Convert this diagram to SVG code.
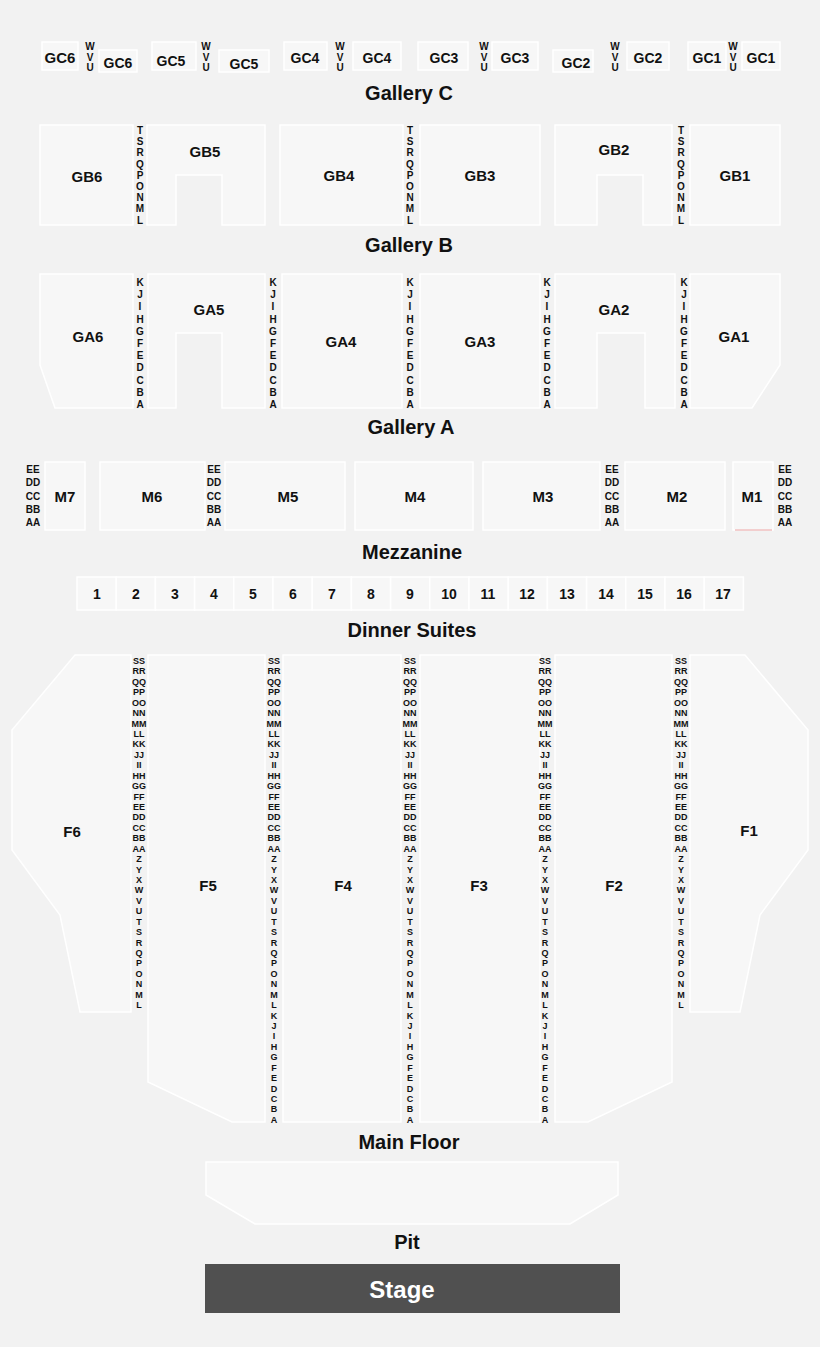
<svg xmlns="http://www.w3.org/2000/svg" width="820" height="1347" viewBox="0 0 820 1347">
<style>
text{font-family:"Liberation Sans",Arial,sans-serif;font-weight:bold;fill:#111;text-anchor:middle}
.s{fill:#f7f7f7;stroke:#fff;stroke-width:1.5}
.l{font-size:15px}
.t{font-size:20px}
.r{font-size:10px}
.rs{font-size:9px}
</style>
<rect width="820" height="1347" fill="#f2f2f2"/>
<g id="gallery-c">
<rect class="s" x="42" y="42" width="36" height="28"/><rect class="s" x="99" y="50" width="38" height="22"/>
<rect class="s" x="152" y="42" width="44" height="28"/><rect class="s" x="219" y="50" width="50" height="22"/>
<rect class="s" x="284" y="42" width="43" height="28"/><rect class="s" x="353" y="42" width="48" height="28"/>
<rect class="s" x="418" y="42" width="50" height="28"/><rect class="s" x="492" y="42" width="46" height="28"/>
<rect class="s" x="553" y="50" width="40" height="22"/><rect class="s" x="627" y="42" width="42" height="28"/>
<rect class="s" x="688" y="42" width="38" height="28"/><rect class="s" x="742" y="42" width="38" height="28"/>
<text class="l" x="60" y="63" font-size="14">GC6</text><text x="118" y="68" font-size="14">GC6</text>
<text x="171" y="66" font-size="14">GC5</text><text x="244" y="69" font-size="14">GC5</text>
<text x="305" y="63" font-size="14">GC4</text><text x="377" y="63" font-size="14">GC4</text>
<text x="444" y="63" font-size="14">GC3</text><text x="515" y="63" font-size="14">GC3</text>
<text x="576" y="68" font-size="14">GC2</text><text x="648" y="63" font-size="14">GC2</text>
<text x="707" y="63" font-size="14">GC1</text><text x="761" y="63" font-size="14">GC1</text>
<g class="r">
<text class="r" x="90" y="50">W<tspan x="90" dy="10.5">V</tspan><tspan x="90" dy="10.5">U</tspan></text>
<text class="r" x="206" y="50">W<tspan x="206" dy="10.5">V</tspan><tspan x="206" dy="10.5">U</tspan></text>
<text class="r" x="340" y="50">W<tspan x="340" dy="10.5">V</tspan><tspan x="340" dy="10.5">U</tspan></text>
<text class="r" x="484" y="50">W<tspan x="484" dy="10.5">V</tspan><tspan x="484" dy="10.5">U</tspan></text>
<text class="r" x="615" y="50">W<tspan x="615" dy="10.5">V</tspan><tspan x="615" dy="10.5">U</tspan></text>
<text class="r" x="733" y="50">W<tspan x="733" dy="10.5">V</tspan><tspan x="733" dy="10.5">U</tspan></text>
</g>
<text class="t" x="409" y="100">Gallery C</text>
</g>
<g id="gallery-b">
<rect class="s" x="40" y="125" width="93" height="100"/>
<polygon class="s" points="147,125 265,125 265,225 222,225 222,175 176,175 176,225 147,225"/>
<rect class="s" x="280" y="125" width="123" height="100"/>
<rect class="s" x="420" y="125" width="120" height="100"/>
<polygon class="s" points="555,125 672,125 672,225 643,225 643,175 597,175 597,225 555,225"/>
<rect class="s" x="690" y="125" width="90" height="100"/>
<text class="l" x="87" y="182">GB6</text><text class="l" x="205" y="157">GB5</text>
<text class="l" x="339" y="181">GB4</text><text class="l" x="480" y="181">GB3</text>
<text class="l" x="614" y="155">GB2</text><text class="l" x="735" y="181">GB1</text>
<text class="r" x="140" y="134">T<tspan x="140" dy="11.2">S</tspan><tspan x="140" dy="11.2">R</tspan><tspan x="140" dy="11.2">Q</tspan><tspan x="140" dy="11.2">P</tspan><tspan x="140" dy="11.2">O</tspan><tspan x="140" dy="11.2">N</tspan><tspan x="140" dy="11.2">M</tspan><tspan x="140" dy="11.2">L</tspan></text>
<text class="r" x="410" y="134">T<tspan x="410" dy="11.2">S</tspan><tspan x="410" dy="11.2">R</tspan><tspan x="410" dy="11.2">Q</tspan><tspan x="410" dy="11.2">P</tspan><tspan x="410" dy="11.2">O</tspan><tspan x="410" dy="11.2">N</tspan><tspan x="410" dy="11.2">M</tspan><tspan x="410" dy="11.2">L</tspan></text>
<text class="r" x="681" y="134">T<tspan x="681" dy="11.2">S</tspan><tspan x="681" dy="11.2">R</tspan><tspan x="681" dy="11.2">Q</tspan><tspan x="681" dy="11.2">P</tspan><tspan x="681" dy="11.2">O</tspan><tspan x="681" dy="11.2">N</tspan><tspan x="681" dy="11.2">M</tspan><tspan x="681" dy="11.2">L</tspan></text>
<text class="t" x="409" y="252">Gallery B</text>
</g>
<g id="gallery-a">
<polygon class="s" points="40,274 133,274 133,408 55,408 40,365"/>
<polygon class="s" points="148,274 265,274 265,408 222,408 222,333 176,333 176,408 148,408"/>
<rect class="s" x="282" y="274" width="120" height="134"/>
<rect class="s" x="420" y="274" width="120" height="134"/>
<polygon class="s" points="555,274 675,274 675,408 645,408 645,333 597,333 597,408 555,408"/>
<polygon class="s" points="690,274 780,274 780,365 752,408 690,408"/>
<text class="l" x="88" y="342">GA6</text><text class="l" x="209" y="315">GA5</text>
<text class="l" x="341" y="347">GA4</text><text class="l" x="480" y="347">GA3</text>
<text class="l" x="614" y="315">GA2</text><text class="l" x="734" y="342">GA1</text>
<text class="r" x="140" y="286">K<tspan x="140" dy="12.2">J</tspan><tspan x="140" dy="12.2">I</tspan><tspan x="140" dy="12.2">H</tspan><tspan x="140" dy="12.2">G</tspan><tspan x="140" dy="12.2">F</tspan><tspan x="140" dy="12.2">E</tspan><tspan x="140" dy="12.2">D</tspan><tspan x="140" dy="12.2">C</tspan><tspan x="140" dy="12.2">B</tspan><tspan x="140" dy="12.2">A</tspan></text>
<text class="r" x="273" y="286">K<tspan x="273" dy="12.2">J</tspan><tspan x="273" dy="12.2">I</tspan><tspan x="273" dy="12.2">H</tspan><tspan x="273" dy="12.2">G</tspan><tspan x="273" dy="12.2">F</tspan><tspan x="273" dy="12.2">E</tspan><tspan x="273" dy="12.2">D</tspan><tspan x="273" dy="12.2">C</tspan><tspan x="273" dy="12.2">B</tspan><tspan x="273" dy="12.2">A</tspan></text>
<text class="r" x="410" y="286">K<tspan x="410" dy="12.2">J</tspan><tspan x="410" dy="12.2">I</tspan><tspan x="410" dy="12.2">H</tspan><tspan x="410" dy="12.2">G</tspan><tspan x="410" dy="12.2">F</tspan><tspan x="410" dy="12.2">E</tspan><tspan x="410" dy="12.2">D</tspan><tspan x="410" dy="12.2">C</tspan><tspan x="410" dy="12.2">B</tspan><tspan x="410" dy="12.2">A</tspan></text>
<text class="r" x="547" y="286">K<tspan x="547" dy="12.2">J</tspan><tspan x="547" dy="12.2">I</tspan><tspan x="547" dy="12.2">H</tspan><tspan x="547" dy="12.2">G</tspan><tspan x="547" dy="12.2">F</tspan><tspan x="547" dy="12.2">E</tspan><tspan x="547" dy="12.2">D</tspan><tspan x="547" dy="12.2">C</tspan><tspan x="547" dy="12.2">B</tspan><tspan x="547" dy="12.2">A</tspan></text>
<text class="r" x="684" y="286">K<tspan x="684" dy="12.2">J</tspan><tspan x="684" dy="12.2">I</tspan><tspan x="684" dy="12.2">H</tspan><tspan x="684" dy="12.2">G</tspan><tspan x="684" dy="12.2">F</tspan><tspan x="684" dy="12.2">E</tspan><tspan x="684" dy="12.2">D</tspan><tspan x="684" dy="12.2">C</tspan><tspan x="684" dy="12.2">B</tspan><tspan x="684" dy="12.2">A</tspan></text>
<text class="t" x="411" y="434">Gallery A</text>
</g>
<g id="mezzanine">
<rect class="s" x="45" y="462" width="40" height="68"/><rect class="s" x="100" y="462" width="105" height="68"/>
<rect class="s" x="225" y="462" width="120" height="68"/><rect class="s" x="355" y="462" width="118" height="68"/>
<rect class="s" x="483" y="462" width="117" height="68"/><rect class="s" x="625" y="462" width="100" height="68"/>
<rect class="s" x="733" y="462" width="40" height="68"/>
<line x1="735" y1="530" x2="772" y2="530" stroke="#e8a0a0" stroke-width="1"/>
<text class="l" x="65" y="502">M7</text><text class="l" x="152" y="502">M6</text><text class="l" x="288" y="502">M5</text>
<text class="l" x="415" y="502">M4</text><text class="l" x="543" y="502">M3</text><text class="l" x="677" y="502">M2</text><text class="l" x="752" y="502">M1</text>
<text class="r" x="33" y="473">EE<tspan x="33" dy="13.3">DD</tspan><tspan x="33" dy="13.3">CC</tspan><tspan x="33" dy="13.3">BB</tspan><tspan x="33" dy="13.3">AA</tspan></text>
<text class="r" x="214" y="473">EE<tspan x="214" dy="13.3">DD</tspan><tspan x="214" dy="13.3">CC</tspan><tspan x="214" dy="13.3">BB</tspan><tspan x="214" dy="13.3">AA</tspan></text>
<text class="r" x="612" y="473">EE<tspan x="612" dy="13.3">DD</tspan><tspan x="612" dy="13.3">CC</tspan><tspan x="612" dy="13.3">BB</tspan><tspan x="612" dy="13.3">AA</tspan></text>
<text class="r" x="785" y="473">EE<tspan x="785" dy="13.3">DD</tspan><tspan x="785" dy="13.3">CC</tspan><tspan x="785" dy="13.3">BB</tspan><tspan x="785" dy="13.3">AA</tspan></text>
<text class="t" x="412" y="559">Mezzanine</text>
</g>
<g id="dinner-suites">
<g class="s">
<rect x="77" y="577" width="39.2" height="33"/><rect x="116.2" y="577" width="39.2" height="33"/><rect x="155.4" y="577" width="39.2" height="33"/><rect x="194.6" y="577" width="39.2" height="33"/><rect x="233.8" y="577" width="39.2" height="33"/><rect x="273" y="577" width="39.2" height="33"/><rect x="312.2" y="577" width="39.2" height="33"/><rect x="351.4" y="577" width="39.2" height="33"/><rect x="390.6" y="577" width="39.2" height="33"/><rect x="429.8" y="577" width="39.2" height="33"/><rect x="469" y="577" width="39.2" height="33"/><rect x="508.2" y="577" width="39.2" height="33"/><rect x="547.4" y="577" width="39.2" height="33"/><rect x="586.6" y="577" width="39.2" height="33"/><rect x="625.8" y="577" width="39.2" height="33"/><rect x="665" y="577" width="39.2" height="33"/><rect x="704.2" y="577" width="39.2" height="33"/>
</g>
<g font-size="14">
<text x="97" y="599">1</text><text x="136" y="599">2</text><text x="175" y="599">3</text><text x="214" y="599">4</text><text x="253" y="599">5</text><text x="293" y="599">6</text><text x="332" y="599">7</text><text x="371" y="599">8</text><text x="410" y="599">9</text><text x="449" y="599">10</text><text x="488" y="599">11</text><text x="527" y="599">12</text><text x="567" y="599">13</text><text x="606" y="599">14</text><text x="645" y="599">15</text><text x="684" y="599">16</text><text x="723" y="599">17</text>
</g>
<text class="t" x="412" y="637">Dinner Suites</text>
</g>
<g id="main-floor">
<polygon class="s" points="75,655 131,655 131,1012 80,1012 60,915 12,850 12,730"/>
<polygon class="s" points="148,655 265,655 265,1122 232,1122 148,1082"/>
<rect class="s" x="283" y="655" width="118" height="467"/>
<rect class="s" x="420" y="655" width="120" height="467"/>
<polygon class="s" points="555,655 672,655 672,1082 588,1122 555,1122"/>
<polygon class="s" points="690,655 745,655 808,730 808,850 760,915 740,1012 690,1012"/>
<text class="l" x="72" y="837">F6</text><text class="l" x="208" y="891">F5</text><text class="l" x="343" y="891">F4</text>
<text class="l" x="479" y="891">F3</text><text class="l" x="614" y="891">F2</text><text class="l" x="749" y="836">F1</text>
<g class="rs">
<text class="rs" x="139" y="664">SS<tspan x="139" dy="10.43">RR</tspan><tspan x="139" dy="10.43">QQ</tspan><tspan x="139" dy="10.43">PP</tspan><tspan x="139" dy="10.43">OO</tspan><tspan x="139" dy="10.43">NN</tspan><tspan x="139" dy="10.43">MM</tspan><tspan x="139" dy="10.43">LL</tspan><tspan x="139" dy="10.43">KK</tspan><tspan x="139" dy="10.43">JJ</tspan><tspan x="139" dy="10.43">II</tspan><tspan x="139" dy="10.43">HH</tspan><tspan x="139" dy="10.43">GG</tspan><tspan x="139" dy="10.43">FF</tspan><tspan x="139" dy="10.43">EE</tspan><tspan x="139" dy="10.43">DD</tspan><tspan x="139" dy="10.43">CC</tspan><tspan x="139" dy="10.43">BB</tspan><tspan x="139" dy="10.43">AA</tspan><tspan x="139" dy="10.43">Z</tspan><tspan x="139" dy="10.43">Y</tspan><tspan x="139" dy="10.43">X</tspan><tspan x="139" dy="10.43">W</tspan><tspan x="139" dy="10.43">V</tspan><tspan x="139" dy="10.43">U</tspan><tspan x="139" dy="10.43">T</tspan><tspan x="139" dy="10.43">S</tspan><tspan x="139" dy="10.43">R</tspan><tspan x="139" dy="10.43">Q</tspan><tspan x="139" dy="10.43">P</tspan><tspan x="139" dy="10.43">O</tspan><tspan x="139" dy="10.43">N</tspan><tspan x="139" dy="10.43">M</tspan><tspan x="139" dy="10.43">L</tspan></text>
<text class="rs" x="681" y="664">SS<tspan x="681" dy="10.43">RR</tspan><tspan x="681" dy="10.43">QQ</tspan><tspan x="681" dy="10.43">PP</tspan><tspan x="681" dy="10.43">OO</tspan><tspan x="681" dy="10.43">NN</tspan><tspan x="681" dy="10.43">MM</tspan><tspan x="681" dy="10.43">LL</tspan><tspan x="681" dy="10.43">KK</tspan><tspan x="681" dy="10.43">JJ</tspan><tspan x="681" dy="10.43">II</tspan><tspan x="681" dy="10.43">HH</tspan><tspan x="681" dy="10.43">GG</tspan><tspan x="681" dy="10.43">FF</tspan><tspan x="681" dy="10.43">EE</tspan><tspan x="681" dy="10.43">DD</tspan><tspan x="681" dy="10.43">CC</tspan><tspan x="681" dy="10.43">BB</tspan><tspan x="681" dy="10.43">AA</tspan><tspan x="681" dy="10.43">Z</tspan><tspan x="681" dy="10.43">Y</tspan><tspan x="681" dy="10.43">X</tspan><tspan x="681" dy="10.43">W</tspan><tspan x="681" dy="10.43">V</tspan><tspan x="681" dy="10.43">U</tspan><tspan x="681" dy="10.43">T</tspan><tspan x="681" dy="10.43">S</tspan><tspan x="681" dy="10.43">R</tspan><tspan x="681" dy="10.43">Q</tspan><tspan x="681" dy="10.43">P</tspan><tspan x="681" dy="10.43">O</tspan><tspan x="681" dy="10.43">N</tspan><tspan x="681" dy="10.43">M</tspan><tspan x="681" dy="10.43">L</tspan></text>
<text class="rs" x="274" y="664">SS<tspan x="274" dy="10.43">RR</tspan><tspan x="274" dy="10.43">QQ</tspan><tspan x="274" dy="10.43">PP</tspan><tspan x="274" dy="10.43">OO</tspan><tspan x="274" dy="10.43">NN</tspan><tspan x="274" dy="10.43">MM</tspan><tspan x="274" dy="10.43">LL</tspan><tspan x="274" dy="10.43">KK</tspan><tspan x="274" dy="10.43">JJ</tspan><tspan x="274" dy="10.43">II</tspan><tspan x="274" dy="10.43">HH</tspan><tspan x="274" dy="10.43">GG</tspan><tspan x="274" dy="10.43">FF</tspan><tspan x="274" dy="10.43">EE</tspan><tspan x="274" dy="10.43">DD</tspan><tspan x="274" dy="10.43">CC</tspan><tspan x="274" dy="10.43">BB</tspan><tspan x="274" dy="10.43">AA</tspan><tspan x="274" dy="10.43">Z</tspan><tspan x="274" dy="10.43">Y</tspan><tspan x="274" dy="10.43">X</tspan><tspan x="274" dy="10.43">W</tspan><tspan x="274" dy="10.43">V</tspan><tspan x="274" dy="10.43">U</tspan><tspan x="274" dy="10.43">T</tspan><tspan x="274" dy="10.43">S</tspan><tspan x="274" dy="10.43">R</tspan><tspan x="274" dy="10.43">Q</tspan><tspan x="274" dy="10.43">P</tspan><tspan x="274" dy="10.43">O</tspan><tspan x="274" dy="10.43">N</tspan><tspan x="274" dy="10.43">M</tspan><tspan x="274" dy="10.43">L</tspan><tspan x="274" dy="10.43">K</tspan><tspan x="274" dy="10.43">J</tspan><tspan x="274" dy="10.43">I</tspan><tspan x="274" dy="10.43">H</tspan><tspan x="274" dy="10.43">G</tspan><tspan x="274" dy="10.43">F</tspan><tspan x="274" dy="10.43">E</tspan><tspan x="274" dy="10.43">D</tspan><tspan x="274" dy="10.43">C</tspan><tspan x="274" dy="10.43">B</tspan><tspan x="274" dy="10.43">A</tspan></text>
<text class="rs" x="410" y="664">SS<tspan x="410" dy="10.43">RR</tspan><tspan x="410" dy="10.43">QQ</tspan><tspan x="410" dy="10.43">PP</tspan><tspan x="410" dy="10.43">OO</tspan><tspan x="410" dy="10.43">NN</tspan><tspan x="410" dy="10.43">MM</tspan><tspan x="410" dy="10.43">LL</tspan><tspan x="410" dy="10.43">KK</tspan><tspan x="410" dy="10.43">JJ</tspan><tspan x="410" dy="10.43">II</tspan><tspan x="410" dy="10.43">HH</tspan><tspan x="410" dy="10.43">GG</tspan><tspan x="410" dy="10.43">FF</tspan><tspan x="410" dy="10.43">EE</tspan><tspan x="410" dy="10.43">DD</tspan><tspan x="410" dy="10.43">CC</tspan><tspan x="410" dy="10.43">BB</tspan><tspan x="410" dy="10.43">AA</tspan><tspan x="410" dy="10.43">Z</tspan><tspan x="410" dy="10.43">Y</tspan><tspan x="410" dy="10.43">X</tspan><tspan x="410" dy="10.43">W</tspan><tspan x="410" dy="10.43">V</tspan><tspan x="410" dy="10.43">U</tspan><tspan x="410" dy="10.43">T</tspan><tspan x="410" dy="10.43">S</tspan><tspan x="410" dy="10.43">R</tspan><tspan x="410" dy="10.43">Q</tspan><tspan x="410" dy="10.43">P</tspan><tspan x="410" dy="10.43">O</tspan><tspan x="410" dy="10.43">N</tspan><tspan x="410" dy="10.43">M</tspan><tspan x="410" dy="10.43">L</tspan><tspan x="410" dy="10.43">K</tspan><tspan x="410" dy="10.43">J</tspan><tspan x="410" dy="10.43">I</tspan><tspan x="410" dy="10.43">H</tspan><tspan x="410" dy="10.43">G</tspan><tspan x="410" dy="10.43">F</tspan><tspan x="410" dy="10.43">E</tspan><tspan x="410" dy="10.43">D</tspan><tspan x="410" dy="10.43">C</tspan><tspan x="410" dy="10.43">B</tspan><tspan x="410" dy="10.43">A</tspan></text>
<text class="rs" x="545" y="664">SS<tspan x="545" dy="10.43">RR</tspan><tspan x="545" dy="10.43">QQ</tspan><tspan x="545" dy="10.43">PP</tspan><tspan x="545" dy="10.43">OO</tspan><tspan x="545" dy="10.43">NN</tspan><tspan x="545" dy="10.43">MM</tspan><tspan x="545" dy="10.43">LL</tspan><tspan x="545" dy="10.43">KK</tspan><tspan x="545" dy="10.43">JJ</tspan><tspan x="545" dy="10.43">II</tspan><tspan x="545" dy="10.43">HH</tspan><tspan x="545" dy="10.43">GG</tspan><tspan x="545" dy="10.43">FF</tspan><tspan x="545" dy="10.43">EE</tspan><tspan x="545" dy="10.43">DD</tspan><tspan x="545" dy="10.43">CC</tspan><tspan x="545" dy="10.43">BB</tspan><tspan x="545" dy="10.43">AA</tspan><tspan x="545" dy="10.43">Z</tspan><tspan x="545" dy="10.43">Y</tspan><tspan x="545" dy="10.43">X</tspan><tspan x="545" dy="10.43">W</tspan><tspan x="545" dy="10.43">V</tspan><tspan x="545" dy="10.43">U</tspan><tspan x="545" dy="10.43">T</tspan><tspan x="545" dy="10.43">S</tspan><tspan x="545" dy="10.43">R</tspan><tspan x="545" dy="10.43">Q</tspan><tspan x="545" dy="10.43">P</tspan><tspan x="545" dy="10.43">O</tspan><tspan x="545" dy="10.43">N</tspan><tspan x="545" dy="10.43">M</tspan><tspan x="545" dy="10.43">L</tspan><tspan x="545" dy="10.43">K</tspan><tspan x="545" dy="10.43">J</tspan><tspan x="545" dy="10.43">I</tspan><tspan x="545" dy="10.43">H</tspan><tspan x="545" dy="10.43">G</tspan><tspan x="545" dy="10.43">F</tspan><tspan x="545" dy="10.43">E</tspan><tspan x="545" dy="10.43">D</tspan><tspan x="545" dy="10.43">C</tspan><tspan x="545" dy="10.43">B</tspan><tspan x="545" dy="10.43">A</tspan></text>
</g>
<text class="t" x="409" y="1149">Main Floor</text>
</g>
<g id="pit">
<polygon class="s" points="206,1162 618,1162 618,1195 570,1224 255,1224 206,1195"/>
<text class="t" x="407" y="1249">Pit</text>
</g>
<g id="stage">
<rect x="205" y="1264" width="415" height="49" fill="#505050"/>
<text x="402" y="1298" font-size="24" style="fill:#fff">Stage</text>
</g>
<g id="connectors"/>
</svg>
